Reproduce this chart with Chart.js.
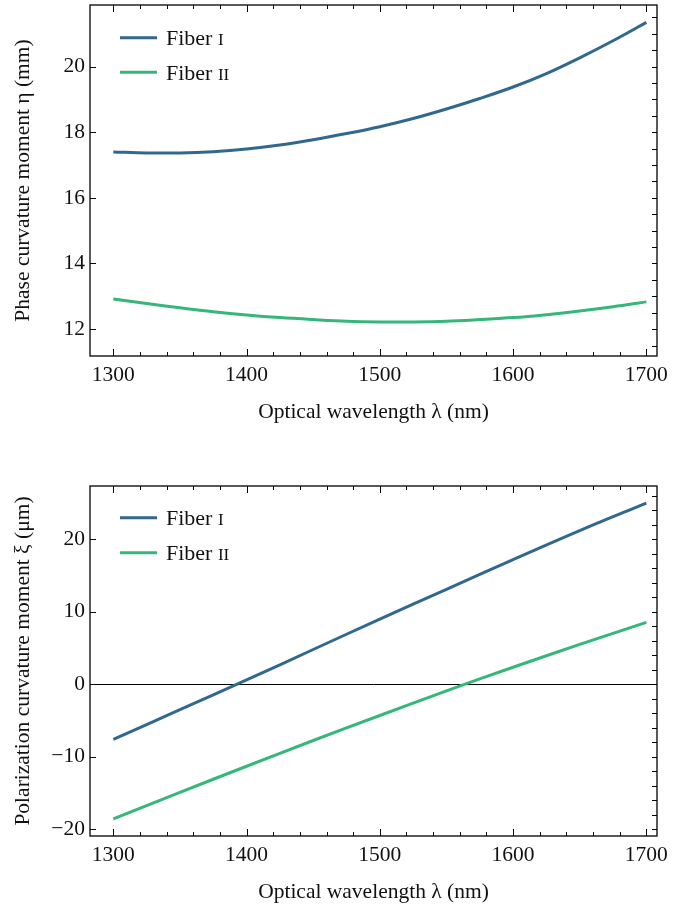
<!DOCTYPE html>
<html><head><meta charset="utf-8">
<script src="https://cdn.jsdelivr.net/npm/chart.js@4.4.1/dist/chart.umd.min.js"></script>
<style>
html,body{margin:0;padding:0;background:#fff;width:697px;height:906px;overflow:hidden;position:relative}
.box{position:absolute;left:0;width:697px}
</style></head><body>
<div class="box" style="top:0;height:426px"><canvas id="c1" width="697" height="426"></canvas></div>
<div class="box" style="top:440px;height:466px"><canvas id="c2" width="697" height="466"></canvas></div>
<script>
// ---- data ----
const wavelengthsPhase = [1300,1325,1350,1375,1400,1425,1450,1475,1500,1525,1550,1575,1600,1625,1650,1675,1700];
const phaseFiberI  = [17.40,17.37,17.37,17.41,17.49,17.61,17.77,17.96,18.17,18.42,18.71,19.03,19.38,19.79,20.27,20.79,21.35];
const phaseFiberII = [12.92,12.78,12.65,12.53,12.43,12.35,12.29,12.24,12.22,12.22,12.24,12.29,12.35,12.44,12.55,12.68,12.83];
const wavelengthsPol = [1300,1350,1400,1450,1500,1550,1600,1650,1700];
const polFiberI  = [-7.6,-3.5,0.6,4.8,9.0,13.1,17.2,21.2,25.0];
const polFiberII = [-18.55,-14.9,-11.3,-7.75,-4.3,-0.9,2.35,5.5,8.55];
const xTicks = [1300,1400,1500,1600,1700];
const phaseTicks = [12,14,16,18,20];
const polTicks = [-20,-10,0,10,20];
const seriesLabels = ['Fiber I','Fiber II'];
const seriesColors = ['#31688e','#35b779'];
const xTitle = 'Optical wavelength λ (nm)';
const phaseTitle = 'Phase curvature moment η (mm)';
const polTitle = 'Polarization curvature moment ξ (μm)';

const FONT = "'Liberation Serif','Times New Roman',serif";
const TXT = '#111';

const framePlugin = {
  id: 'frame',
  afterDraw(chart, args, o) {
    const {ctx, chartArea: a} = chart;
    const x = chart.scales.x, y = chart.scales.y;
    ctx.save();
    ctx.strokeStyle = '#000';
    ctx.lineWidth = 1;
    const seg = (x1,y1,x2,y2)=>{ctx.beginPath();ctx.moveTo(x1,y1);ctx.lineTo(x2,y2);ctx.stroke();};
    const k0 = Math.ceil(x.min / o.xMinor), k1 = Math.floor(x.max / o.xMinor);
    for (let k = k0; k <= k1; k++) {
      const v = k * o.xMinor;
      const px = Math.round(x.getPixelForValue(v)) + 0.5;
      const L = (Math.abs(v % o.xMajor) < 1e-6) ? 7 : 4;
      seg(px, a.bottom, px, a.bottom - L);
      seg(px, a.top, px, a.top + L);
    }
    y.ticks.forEach(t => {
      const py = Math.round(y.getPixelForValue(t.value)) + 0.5;
      seg(a.left, py, a.left + 6, py);
    });
    const j0 = Math.ceil(y.min / o.yMinor), j1 = Math.floor(y.max / o.yMinor);
    for (let j = j0; j <= j1; j++) {
      const py = Math.round(y.getPixelForValue(j * o.yMinor)) + 0.5;
      seg(a.right - 5, py, a.right, py);
    }
    ctx.lineWidth = 1.3;
    ctx.strokeRect(a.left, a.top, a.right - a.left, a.bottom - a.top);
    // legend
    chart.data.datasets.forEach((ds, i) => {
      const ly = a.top + o.legendTop + i * o.legendGap;
      ctx.strokeStyle = ds.borderColor;
      ctx.lineWidth = 3;
      seg(a.left + 30, ly, a.left + 67, ly);
      const parts = ds.label.split(' ');
      ctx.fillStyle = TXT;
      ctx.textBaseline = 'alphabetic';
      ctx.textAlign = 'left';
      ctx.font = '22px ' + FONT;
      const head = parts[0] + ' ';
      ctx.fillText(head, a.left + 76, ly + 7.5);
      const w = ctx.measureText(head).width;
      ctx.font = '17px ' + FONT;
      ctx.fillText(parts[1], a.left + 76 + w, ly + 7.5);
    });
    ctx.restore();
  }
};

function makeChart(id, xs, s1, s2, yMin, yMax, yTickVals, yTitle, topPad, yMinor, zeroLine, legendTop, legendGap) {
  const pts = (arr) => xs.map((v, i) => ({x: v, y: arr[i]}));
  return new Chart(document.getElementById(id), {
    type: 'line',
    data: {
      datasets: [s1, s2].map((s, i) => ({
        label: seriesLabels[i], data: pts(s), borderColor: seriesColors[i], backgroundColor: seriesColors[i],
        borderWidth: 3, pointRadius: 0, tension: 0.35, fill: false
      }))
    },
    options: {
      responsive: false, animation: false, devicePixelRatio: 1,
      layout: {padding: {top: topPad, right: 40, left: 0, bottom: 0}},
      plugins: {legend: {display: false}, tooltip: {enabled: false},
        frame: {xMinor: 20, xMajor: 100, yMinor: yMinor, legendTop: legendTop, legendGap: legendGap}},
      scales: {
        x: {
          type: 'linear', min: 1282.5, max: 1708,
          afterBuildTicks: s => { s.ticks = xTicks.map(v => ({value: v})); },
          afterFit: s => { s.height = 70; s.paddingLeft = 0; s.paddingRight = 0; },
          grid: {display: false, drawTicks: false},
          border: {display: false},
          ticks: {color: TXT, font: {family: FONT, size: 21.5}, padding: 6, maxRotation: 0,
                  callback: v => String(v)},
          title: {display: true, text: xTitle, color: TXT, font: {family: FONT, size: 21.5}, padding: {top: 0, bottom: 1}}
        },
        y: {
          type: 'linear', min: yMin, max: yMax,
          afterBuildTicks: s => { s.ticks = yTickVals.map(v => ({value: v})); },
          afterFit: s => { s.width = 90; s.paddingTop = 0; s.paddingBottom = 0; },
          grid: zeroLine ? {drawTicks: false, lineWidth: 1, color: c => (c.tick && c.tick.value === 0) ? '#000' : 'rgba(0,0,0,0)'} : {display: false, drawTicks: false},
          border: {display: false},
          ticks: {color: TXT, font: {family: FONT, size: 21.5}, padding: 5,
                  callback: v => String(v).replace('-', '\u2212')},
          title: {display: true, text: yTitle, color: TXT, font: {family: FONT, size: 21.5}, padding: {top: 10, bottom: 0}}
        }
      }
    },
    plugins: [framePlugin]
  });
}

makeChart('c1', wavelengthsPhase, phaseFiberI, phaseFiberII, 11.18, 21.88, phaseTicks, phaseTitle, 5, 0.5, false, 32.7, 34.6);
makeChart('c2', wavelengthsPol, polFiberI, polFiberII, -20.92, 27.35, polTicks, polTitle, 46, 2, true, 31.7, 35);
</script>
</body></html>
